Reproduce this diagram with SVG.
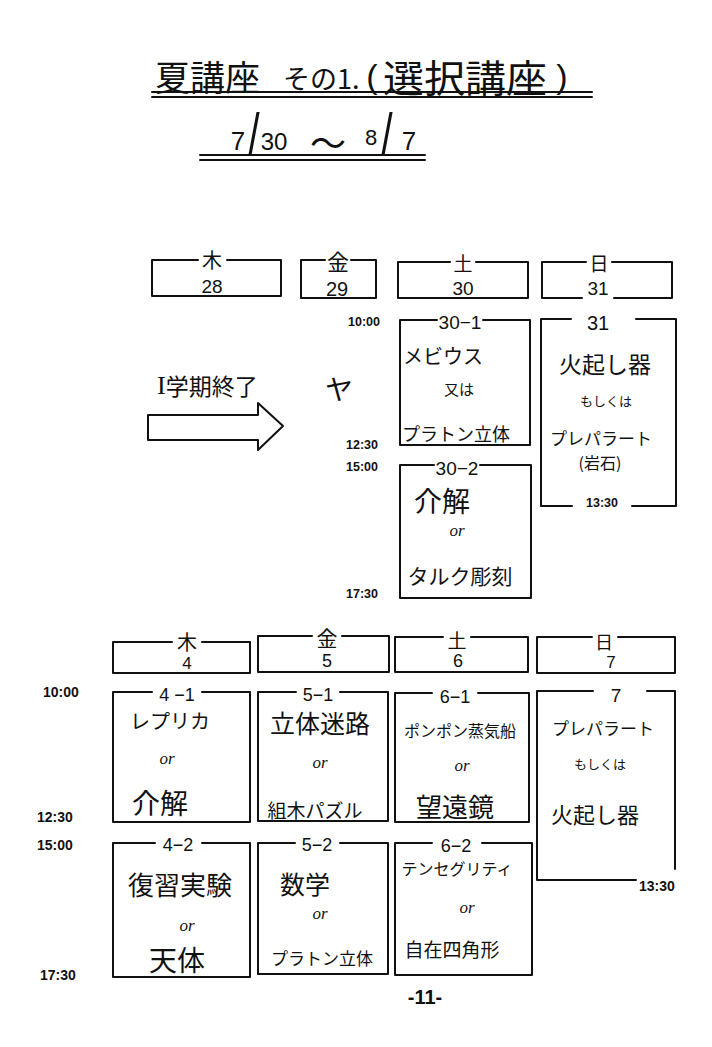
<svg xmlns="http://www.w3.org/2000/svg" width="712" height="1047" viewBox="0 0 712 1047">
<style>
  .bg { fill: #ffffff; }
  .box { fill: none; stroke: #111; stroke-width: 2; stroke-linecap: round; stroke-linejoin: round; }
  .t { font-family: "Noto Sans CJK JP", "Liberation Sans", sans-serif; fill: #111; text-anchor: middle; dominant-baseline: central; }
  .num { font-family: "Liberation Sans", "Noto Sans CJK JP", sans-serif; fill: #111; text-anchor: middle; dominant-baseline: central; }
  .or { font-family: "Liberation Serif", serif; font-style: italic; font-size: 17px; fill: #111; text-anchor: middle; dominant-baseline: central; }
  .time { font-family: "Liberation Sans", sans-serif; font-weight: bold; font-size: 14px; fill: #111; dominant-baseline: central; }
  .ttime { font-family: "Liberation Sans", sans-serif; font-weight: bold; font-size: 12.5px; fill: #111; dominant-baseline: central; }
  .arrow { fill: #ffffff; stroke: #111; stroke-width: 2; stroke-linejoin: round; }
</style>
<rect class="bg" x="0" y="0" width="712" height="1047"/>

<g id="title">
  <text class="t" x="155" y="75" font-size="35" style="text-anchor:start">夏講座</text>
  <text class="t" x="283" y="77" font-size="27" style="text-anchor:start">その1.</text>
  <text class="num" x="372" y="76" font-size="34">(</text>
  <text class="t" x="383" y="75" font-size="38" textLength="164" lengthAdjust="spacingAndGlyphs" style="text-anchor:start">選択講座</text>
  <text class="num" x="562" y="76" font-size="34">)</text>
  <line class="box" x1="152" y1="92" x2="592" y2="92"/>
  <line class="box" x1="152" y1="97" x2="592" y2="97"/>
</g>

<g id="dates">
  <text class="num" x="238" y="141" font-size="26">7</text>
  <text class="num" font-size="40" transform="translate(254,134) scale(1,1.45)">/</text>
  <text class="num" x="274" y="141" font-size="24">30</text>
  <text class="t" x="328" y="141" font-size="36">〜</text>
  <text class="num" x="371" y="137" font-size="22">8</text>
  <text class="num" font-size="40" transform="translate(387,134) scale(1,1.45)">/</text>
  <text class="num" x="409" y="141" font-size="26">7</text>
  <line class="box" x1="200" y1="155" x2="425" y2="155"/>
  <line class="box" x1="200" y1="160" x2="425" y2="160"/>
</g>

<!-- Week 1 headers -->
<g id="head-28">
  <path class="box" d="M198 260 H152 V296 H281 V260 H227"/>
  <text class="t" x="212" y="259" font-size="20">木</text>
  <text class="num" x="212" y="286" font-size="19">28</text>
</g>
<g id="head-29">
  <path class="box" d="M325 260 H301 V298 H376 V260 H351"/>
  <text class="t" x="338" y="260" font-size="22">金</text>
  <text class="num" x="337" y="289" font-size="20">29</text>
</g>
<g id="head-30">
  <path class="box" d="M450 262 H398 V298 H528 V262 H476"/>
  <text class="t" x="463" y="262" font-size="19">土</text>
  <text class="num" x="463" y="288" font-size="19">30</text>
</g>
<g id="head-31">
  <path class="box" d="M586 262 H542 V298 H582 M614 298 H672 V262 H612"/>
  <text class="t" x="599" y="262" font-size="19">日</text>
  <text class="num" x="598" y="288" font-size="19">31</text>
</g>

<g id="term-end">
  <text class="t" x="157" y="385" font-size="23" style="text-anchor:start"><tspan font-family="Liberation Serif, serif" font-size="26">I</tspan>学期終了</text>
</g>
<g id="ya">
  <text class="t" x="339" y="388" font-size="28">ヤ</text>
</g>

<g id="times-week1">
  <text class="ttime" x="348" y="322">10:00</text>
  <text class="ttime" x="346" y="445">12:30</text>
  <text class="ttime" x="346" y="467">15:00</text>
  <text class="ttime" x="346" y="594">17:30</text>
</g>

<g id="box-30-1">
  <path class="box" d="M437 320 H400 V445 H530 V320 H483"/>
  <text class="num" x="460" y="322" font-size="19">30−1</text>
  <text class="t" x="443" y="355" font-size="20">メビウス</text>
  <text class="t" x="459" y="388" font-size="15">又は</text>
  <text class="t" x="456" y="433" font-size="18">プラトン立体</text>
</g>
<g id="box-30-2">
  <path class="box" d="M434 465 H400 V598 H531 V465 H480"/>
  <text class="num" x="457" y="468" font-size="19">30−2</text>
  <text class="t" x="442" y="500" font-size="28">介解</text>
  <text class="or" x="457" y="530">or</text>
  <text class="t" x="460" y="575" font-size="21">タルク彫刻</text>
</g>
<g id="box-31">
  <path class="box" d="M571 319 H541 V506 H572 M632 506 H676 V319 H636"/>
  <text class="num" x="598" y="323" font-size="20">31</text>
  <text class="t" x="605" y="363" font-size="23">火起し器</text>
  <text class="t" x="606" y="400" font-size="13">もしくは</text>
  <text class="t" x="601" y="437" font-size="17">プレパラート</text>
  <text class="t" x="600" y="462" font-size="16">(岩石)</text>
  <text class="ttime" x="602" y="503" style="text-anchor:middle">13:30</text>
</g>

<!-- Week 2 headers -->
<g id="head-4">
  <path class="box" d="M172 642 H113 V673 H250 V642 H202"/>
  <text class="t" x="187" y="641" font-size="20">木</text>
  <text class="num" x="187" y="663" font-size="17">4</text>
</g>
<g id="head-5">
  <path class="box" d="M312 636 H258 V672 H389 V636 H342"/>
  <text class="t" x="327" y="637" font-size="21">金</text>
  <text class="num" x="327" y="661" font-size="18">5</text>
</g>
<g id="head-6">
  <path class="box" d="M443 637 H395 V672 H528 V637 H471"/>
  <text class="t" x="457" y="639" font-size="19">土</text>
  <text class="num" x="458" y="661" font-size="18">6</text>
</g>
<g id="head-7">
  <path class="box" d="M592 637 H537 V673 H675 V637 H618"/>
  <text class="t" x="604" y="641" font-size="18">日</text>
  <text class="num" x="611" y="662" font-size="17">7</text>
</g>

<g id="times-week2">
  <text class="time" x="43" y="692">10:00</text>
  <text class="time" x="37" y="817">12:30</text>
  <text class="time" x="37" y="845">15:00</text>
  <text class="time" x="40" y="975">17:30</text>
</g>

<g id="box-4-1">
  <path class="box" d="M152 692 H113 V822 H250 V692 H202"/>
  <text class="num" x="177" y="695" font-size="18">4 −1</text>
  <text class="t" x="170" y="720" font-size="20">レプリカ</text>
  <text class="or" x="167" y="758">or</text>
  <text class="t" x="160" y="802" font-size="28">介解</text>
</g>
<g id="box-5-1">
  <path class="box" d="M296 692 H258 V821 H388 V692 H340"/>
  <text class="num" x="318" y="695" font-size="18">5−1</text>
  <text class="t" x="320" y="722" font-size="25">立体迷路</text>
  <text class="or" x="320" y="762">or</text>
  <text class="t" x="315" y="809" font-size="19">組木パズル</text>
</g>
<g id="box-6-1">
  <path class="box" d="M432 693 H395 V822 H529 V693 H478"/>
  <text class="num" x="455" y="697" font-size="18">6−1</text>
  <text class="t" x="460" y="730" font-size="16">ポンポン蒸気船</text>
  <text class="or" x="462" y="765">or</text>
  <text class="t" x="455" y="805" font-size="26">望遠鏡</text>
</g>
<g id="box-7">
  <path class="box" d="M593 691 H537 V880 H636 M647 691 H675 V869"/>
  <text class="num" x="616" y="695" font-size="19">7</text>
  <text class="t" x="603" y="727" font-size="17">プレパラート</text>
  <text class="t" x="600" y="763" font-size="13">もしくは</text>
  <text class="t" x="595" y="813" font-size="22">火起し器</text>
  <text class="time" x="639" y="886">13:30</text>
</g>
<g id="box-4-2">
  <path class="box" d="M155 843 H113 V977 H250 V843 H202"/>
  <text class="num" x="178" y="845" font-size="18">4−2</text>
  <text class="t" x="180" y="883" font-size="26">復習実験</text>
  <text class="or" x="187" y="925">or</text>
  <text class="t" x="177" y="959" font-size="28">天体</text>
</g>
<g id="box-5-2">
  <path class="box" d="M295 843 H258 V974 H388 V843 H340"/>
  <text class="num" x="317" y="845" font-size="18">5−2</text>
  <text class="t" x="305" y="883" font-size="25">数学</text>
  <text class="or" x="320" y="913">or</text>
  <text class="t" x="322" y="957" font-size="17">プラトン立体</text>
</g>
<g id="box-6-2">
  <path class="box" d="M432 843 H395 V975 H532 V843 H482"/>
  <text class="num" x="456" y="846" font-size="18">6−2</text>
  <text class="t" x="457" y="868" font-size="16">テンセグリティ</text>
  <text class="or" x="467" y="907">or</text>
  <text class="t" x="452" y="948" font-size="19">自在四角形</text>
</g>

<g id="page-number">
  <text class="num" x="425" y="997" font-size="20" font-weight="bold">-11-</text>
</g>

<g id="connectors">
  <polygon class="arrow" points="148,415 258,415 258,403 283,426 258,450 258,440 148,440"/>
</g>
</svg>
